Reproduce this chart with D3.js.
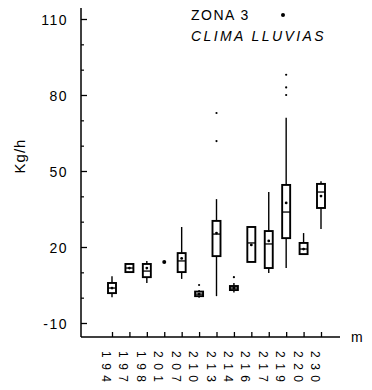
<!DOCTYPE html>
<html><head><meta charset="utf-8">
<script src="https://cdn.jsdelivr.net/npm/d3@7"></script>
<style>body{margin:0;background:#fff}svg{display:block}</style>
</head><body>
<svg id="c" width="372" height="390"></svg>
<script>
const categories = ["194","197","198","201","207","210","213","214","216","217","219","220","230"];
const whiskerLow  = [0.2, 10.1, 5.8, 14.1, 7.4, 0.0, 0.6, 2.0, 14.1, 9.7, 11.7, 17.2, 27.1];
const q1          = [1.8, 10.1, 8.1, 14.1, 10.1, 0.6, 16.4, 3.0, 14.1, 11.7, 23.5, 17.2, 35.4];
const medians     = [3.8, 11.7, 10.5, 14.1, 14.5, 1.4, 25.1, 3.8, 21.6, 21.2, 33.8, 19.2, 41.7];
const q3          = [5.8, 13.3, 13.3, 14.1, 17.6, 2.4, 30.3, 4.6, 27.9, 26.3, 44.5, 21.6, 44.9];
const whiskerHigh = [8.5, 13.3, 14.5, 14.1, 27.9, 3.0, 38.9, 5.8, 27.9, 41.7, 71.0, 25.5, 46.0];
const means       = [3.8, 11.7, 11.7, 14.1, 15.5, 1.4, 25.5, 3.8, 20.8, 22.4, 37.4, 19.2, 40.1];
const outliers    = [[], [], [], [], [], [5.0], [61.8, 72.9], [8.1], [], [], [80.0, 83.0, 88.0], [], []];
const yMajorTicks = [110, 80, 50, 20, -10];
const yMinorTicks = [100, 90, 70, 60, 40, 30, 10, 0];

const svg = d3.select("#c");
const y = d3.scaleLinear().domain([-10, 110]).range([323, 19]);
const x = d3.scalePoint().domain(categories).range([112, 321]);
const axisX = 81, axisY = 337;
const font = "'Liberation Sans', Arial, sans-serif";

// y axis
const gy = svg.append("g").attr("transform", `translate(${axisX},0)`);
gy.call(d3.axisLeft(y).tickValues(yMajorTicks).tickFormat(d => String(d))
  .tickSizeInner(-6).tickSizeOuter(0).tickPadding(13));
gy.select(".domain").remove();
gy.selectAll("line").attr("stroke", "#000").attr("stroke-width", 1.3);
gy.selectAll("text").attr("font-family", font).attr("font-size", 14).attr("letter-spacing", "1.5px")
  .attr("fill", "#000").attr("dy", "0.36em");
const gym = svg.append("g").attr("transform", `translate(${axisX},0)`);
gym.call(d3.axisLeft(y).tickValues(yMinorTicks).tickSizeInner(-3).tickSizeOuter(0).tickFormat(""));
gym.select(".domain").remove();
gym.selectAll("line").attr("stroke", "#000").attr("stroke-width", 1.2);
svg.append("line").attr("x1", axisX).attr("x2", axisX).attr("y1", 8).attr("y2", axisY)
  .attr("stroke", "#000").attr("stroke-width", 1.5);

// x axis
const gx = svg.append("g").attr("transform", `translate(0,${axisY})`);
gx.call(d3.axisBottom(x).tickSizeInner(-5).tickSizeOuter(0).tickFormat(""));
gx.select(".domain").remove();
gx.selectAll("line").attr("stroke", "#000").attr("stroke-width", 1.3);
svg.append("line").attr("x1", axisX).attr("x2", 340).attr("y1", axisY).attr("y2", axisY)
  .attr("stroke", "#000").attr("stroke-width", 1.5);
svg.append("text").attr("x", 351).attr("y", 342).attr("font-family", font).attr("font-size", 14).text("m");

// category labels, rotated
svg.append("g").selectAll("text").data(categories).join("text")
  .attr("transform", d => `translate(${x(d) - 10},351) rotate(90)`)
  .attr("font-family", font).attr("font-size", 12).attr("letter-spacing", "5.5px")
  .attr("fill", "#000").text(d => d);

// y label
svg.append("text").attr("transform", "translate(25,156) rotate(-90)")
  .attr("text-anchor", "middle").attr("font-family", font).attr("font-size", 15)
  .attr("letter-spacing", "1px").text("Kg/h");

// title
svg.append("text").attr("x", 191).attr("y", 20).attr("font-family", font).attr("font-size", 14)
  .attr("letter-spacing", "1.5px").text("ZONA 3");
svg.append("circle").attr("cx", 283).attr("cy", 15).attr("r", 2).attr("fill", "#000");
svg.append("text").attr("x", 191).attr("y", 41).attr("font-family", font).attr("font-size", 14)
  .attr("font-style", "italic").attr("letter-spacing", "2.4px").text("CLIMA LLUVIAS");

// boxes
const bw = 8;
const g = svg.append("g");
categories.forEach((c, i) => {
  const cx = x(c);
  const gg = g.append("g");
  if (whiskerHigh[i] > whiskerLow[i]) {
    gg.append("line").attr("x1", cx).attr("x2", cx).attr("y1", y(whiskerHigh[i])).attr("y2", y(q3[i]))
      .attr("stroke", "#000").attr("stroke-width", 1.4);
    gg.append("line").attr("x1", cx).attr("x2", cx).attr("y1", y(q1[i])).attr("y2", y(whiskerLow[i]))
      .attr("stroke", "#000").attr("stroke-width", 1.4);
  }
  if (q3[i] > q1[i]) {
    gg.append("rect").attr("x", cx - bw / 2).attr("y", y(q3[i])).attr("width", bw)
      .attr("height", y(q1[i]) - y(q3[i])).attr("fill", "#fff").attr("stroke", "#000").attr("stroke-width", 1.9);
    gg.append("line").attr("x1", cx - bw / 2).attr("x2", cx + bw / 2).attr("y1", y(medians[i])).attr("y2", y(medians[i]))
      .attr("stroke", "#000").attr("stroke-width", 1.3);
  }
  gg.append("circle").attr("cx", cx).attr("cy", y(means[i])).attr("r", q3[i] > q1[i] ? 1.4 : 2).attr("fill", "#000");
  outliers[i].forEach(v => {
    gg.append("circle").attr("cx", cx).attr("cy", y(v)).attr("r", 1.1).attr("fill", "#000");
  });
});
</script>
</body></html>
